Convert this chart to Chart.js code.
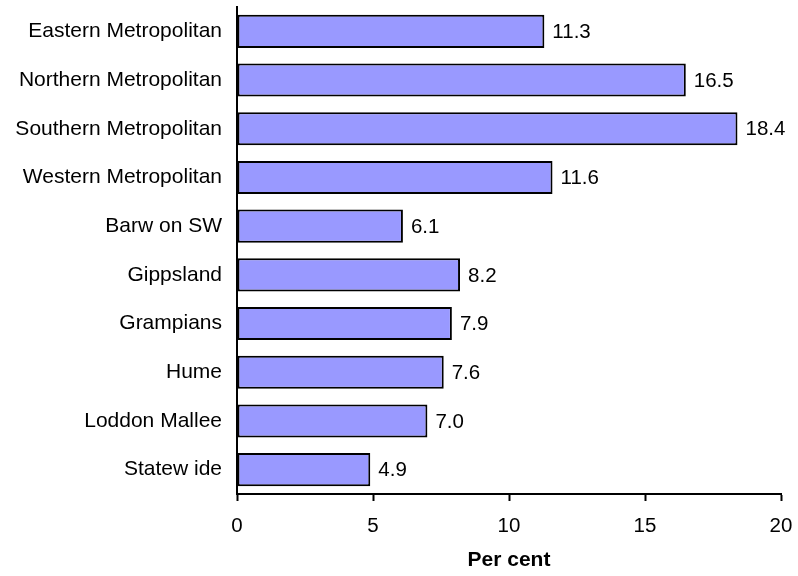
<!DOCTYPE html>
<html>
<head>
<meta charset="utf-8">
<script src="https://cdn.jsdelivr.net/npm/chart.js@4/dist/chart.umd.min.js"></script>
<style>
  html, body { margin: 0; padding: 0; background: #fff; }
  .wrap { width: 798px; height: 576px; position: relative; }
</style>
</head>
<body>
<div class="wrap"><canvas id="graf-regioes"></canvas></div>
<script>
const regions = ["Eastern Metropolitan", "Northern Metropolitan", "Southern Metropolitan", "Western Metropolitan",
    "Barw on SW", "Gippsland", "Grampians", "Hume", "Loddon Mallee", "Statew ide"];
const perCent = [11.3, 16.5, 18.4, 11.6, 6.1, 8.2, 7.9, 7.6, 7.0, 4.9];
const xTicks = [0, 5, 10, 15, 20];

const fontFamily = "'Liberation Sans', Arial, sans-serif";
Chart.defaults.font.family = fontFamily;
Chart.defaults.color = "#000";

// valores ao lado de cada barra
const barValues = {
    id: "barValues",
    afterDatasetsDraw(chart) {
        const ctx = chart.ctx;
        const meta = chart.getDatasetMeta(0);
        ctx.save();
        ctx.font = `20.5px ${fontFamily}`;
        ctx.fillStyle = "#000";
        ctx.textAlign = "left";
        ctx.textBaseline = "middle";
        meta.data.forEach((bar, i) => {
            ctx.fillText(perCent[i].toFixed(1), bar.x + 8, bar.y + 1);
        });
        ctx.restore();
    }
};

new Chart(document.getElementById("graf-regioes"), {
    type: "bar",
    data: {
        labels: regions,
        datasets: [{
            data: perCent,
            backgroundColor: "#9999FF",
            borderColor: "#000",
            borderWidth: 2,
            borderSkipped: false,
            barPercentage: 0.68,
            categoryPercentage: 1
        }]
    },
    options: {
        indexAxis: "y",
        responsive: true,
        maintainAspectRatio: false,
        animation: false,
        layout: { padding: { top: 7, right: 17, bottom: 0, left: 0 } },
        plugins: {
            legend: { display: false },
            tooltip: { enabled: false }
        },
        scales: {
            x: {
                min: 0,
                max: 20,
                afterBuildTicks: s => { s.ticks = xTicks.map(v => ({ value: v })); },
                afterFit: s => { s.height = 82; s.paddingLeft = 0; s.paddingRight = 0; },
                grid: {
                    drawOnChartArea: false,
                    drawTicks: true,
                    tickLength: 7,
                    tickWidth: 2,
                    color: "#000"
                },
                border: { color: "#000", width: 2 },
                ticks: { font: { size: 20.5 }, padding: 13, maxRotation: 0 },
                title: {
                    display: true,
                    text: "Per cent",
                    font: { size: 21, weight: "bold" },
                    padding: { top: 4, bottom: 3 }
                }
            },
            y: {
                afterFit: s => { s.width = 237; s.paddingTop = 0; s.paddingBottom = 0; },
                grid: { display: false, drawTicks: false },
                border: { color: "#000", width: 2 },
                ticks: { font: { size: 21 }, padding: 15, autoSkip: false }
            }
        }
    },
    plugins: [barValues]
});
</script>
</body>
</html>
